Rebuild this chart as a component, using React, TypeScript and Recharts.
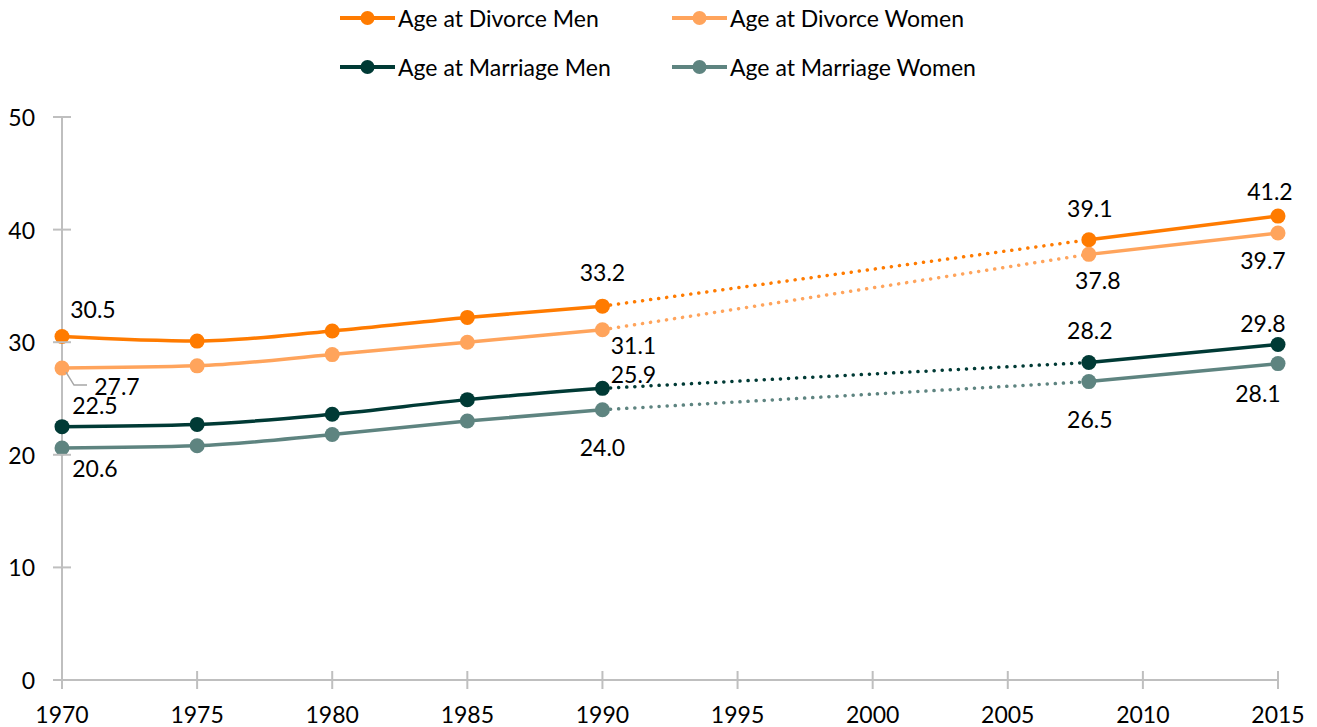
import { CartesianGrid, Line, LineChart, XAxis, YAxis } from 'recharts';

// 年齢の推移（離婚時・結婚時、男女別）
const years = [1970, 1975, 1980, 1985, 1990, 2008, 2015];
const divorceMen = [30.5, 30.1, 31.0, 32.2, 33.2, 39.1, 41.2];
const divorceWomen = [27.7, 27.9, 28.9, 30.0, 31.1, 37.8, 39.7];
const marriageMen = [22.5, 22.7, 23.6, 24.9, 25.9, 28.2, 29.8];
const marriageWomen = [20.6, 20.8, 21.8, 23.0, 24.0, 26.5, 28.1];

const xTicks = [1970, 1975, 1980, 1985, 1990, 1995, 2000, 2005, 2010, 2015];
const yTicks = [0, 10, 20, 30, 40, 50];

const FONT = 'Lato, "Open Sans", sans-serif';
const FONT_SIZE = 23;
const AXIS_COLOR = '#bfbfbf';

// ラベルの配置（データ点からのずれ）: 年 -> [dx, dy, 引き出し線]
type Offset = [number, number, boolean?];
const series = [
  {
    name: 'Age at Divorce Men',
    values: divorceMen,
    color: '#ff7b00',
    offsets: { 1970: [31, -28], 1990: [0, -34], 2008: [1, -32], 2015: [-8, -25] } as Record<number, Offset>,
  },
  {
    name: 'Age at Divorce Women',
    values: divorceWomen,
    color: '#ffa45c',
    offsets: { 1970: [55, 18, true], 1990: [31, 15], 2008: [9, 26], 2015: [-15, 27] } as Record<number, Offset>,
  },
  {
    name: 'Age at Marriage Men',
    values: marriageMen,
    color: '#003a35',
    offsets: { 1970: [33, -22], 1990: [31, -14], 2008: [1, -32], 2015: [-15, -21] } as Record<number, Offset>,
  },
  {
    name: 'Age at Marriage Women',
    values: marriageWomen,
    color: '#5e8480',
    offsets: { 1970: [33, 20], 1990: [0, 37], 2008: [1, 37], 2015: [-20, 29] } as Record<number, Offset>,
  },
];

const makeLabel = (rows: { year: number; value: number }[], offsets: Record<number, Offset>) =>
  (props: any) => {
    const { x, y, index } = props;
    const row = rows[index];
    if (!row) return null;
    const off = offsets[row.year];
    if (!off) return null;
    const [dx, dy, leader] = off;
    return (
      <g key={`lbl-${row.year}-${index}`}>
        {leader && (
          <polyline
            points={`${x + 4},${y + 4} ${x + 12},${y + 17} ${x + 25},${y + 17}`}
            fill="none"
            stroke="#a6a6a6"
            strokeWidth={1.5}
          />
        )}
        <text
          x={x + dx}
          y={y + dy}
          textAnchor="middle"
          dominantBaseline="central"
          fontFamily={FONT}
          fontSize={FONT_SIZE}
          fill="#000"
        >
          {row.value.toFixed(1)}
        </text>
      </g>
    );
  };

const YTick = (props: any) => {
  const { x, y, payload } = props;
  return (
    <g>
      <line x1={x + 18} x2={x + 36} y1={y} y2={y} stroke={AXIS_COLOR} strokeWidth={2} />
      <text x={x} y={y} textAnchor="end" dominantBaseline="central" fontFamily={FONT} fontSize={FONT_SIZE} fill="#000">
        {payload.value}
      </text>
    </g>
  );
};

const XTick = (props: any) => {
  const { x, y, payload } = props;
  return (
    <g>
      <line x1={x} x2={x} y1={y - 18} y2={y} stroke={AXIS_COLOR} strokeWidth={2} />
      <text x={x} y={y + 25} textAnchor="middle" dominantBaseline="central" fontFamily={FONT} fontSize={FONT_SIZE} fill="#000">
        {payload.value}
      </text>
    </g>
  );
};

const LegendItem = ({ name, color }: { name: string; color: string }) => (
  <div style={{ display: 'flex', alignItems: 'center', width: 332, height: 26 }}>
    <svg width={58} height={20}>
      <line x1={0} x2={55} y1={10} y2={10} stroke={color} strokeWidth={4} />
      <circle cx={27.5} cy={10} r={7} fill={color} />
    </svg>
    <span style={{ fontFamily: FONT, fontSize: FONT_SIZE, color: '#000', whiteSpace: 'nowrap', lineHeight: '26px' }}>
      {name}
    </span>
  </div>
);

export default function App() {
  const all = series.map((s) => {
    const rows = years.map((year, i) => ({ year, value: s.values[i] }));
    return {
      ...s,
      rows,
      early: rows.slice(0, 5),
      gap: rows.slice(4, 6),
      late: rows.slice(5),
    };
  });

  return (
    <div style={{ position: 'absolute', left: 0, top: 0, width: 1317, height: 727, background: '#fff' }}>
      <LineChart width={1317} height={727} margin={{ top: 117, right: 39, bottom: 0, left: 0 }}>
        <CartesianGrid horizontal={false} vertical={false} />
        <XAxis
          type="number"
          dataKey="year"
          domain={[1970, 2015]}
          ticks={xTicks}
          allowDuplicatedCategory={false}
          height={47}
          tickSize={9}
          tickMargin={0}
          axisLine={{ stroke: AXIS_COLOR, strokeWidth: 2 }}
          tickLine={false}
          tick={<XTick />}
        />
        <YAxis
          type="number"
          domain={[0, 50]}
          ticks={yTicks}
          width={62}
          tickSize={9}
          tickMargin={18}
          axisLine={{ stroke: AXIS_COLOR, strokeWidth: 2 }}
          tickLine={{ stroke: 'transparent' }}
          tick={<YTick />}
        />
        {all.map((s) => [
          <Line
            key={`${s.name}-gap`}
            data={s.gap}
            dataKey="value"
            type="linear"
            stroke={s.color}
            strokeWidth={3.5}
            strokeDasharray="0.1 8"
            strokeLinecap="round"
            dot={false}
            activeDot={false}
            isAnimationActive={false}
          />,
          <Line
            key={`${s.name}-early`}
            data={s.early}
            dataKey="value"
            type="monotone"
            stroke={s.color}
            strokeWidth={3.5}
            dot={{ r: 7.5, fill: s.color, stroke: s.color, strokeWidth: 0 }}
            activeDot={false}
            label={makeLabel(s.early, s.offsets)}
            isAnimationActive={false}
          />,
          <Line
            key={`${s.name}-late`}
            data={s.late}
            dataKey="value"
            type="monotone"
            stroke={s.color}
            strokeWidth={3.5}
            dot={{ r: 7.5, fill: s.color, stroke: s.color, strokeWidth: 0 }}
            activeDot={false}
            label={makeLabel(s.late, s.offsets)}
            isAnimationActive={false}
          />,
        ])}
      </LineChart>
      <div style={{ position: 'absolute', left: 340, top: 5, display: 'flex', flexWrap: 'wrap', width: 680, rowGap: 23 }}>
        {series.map((s) => (
          <LegendItem key={s.name} name={s.name} color={s.color} />
        ))}
      </div>
    </div>
  );
}
